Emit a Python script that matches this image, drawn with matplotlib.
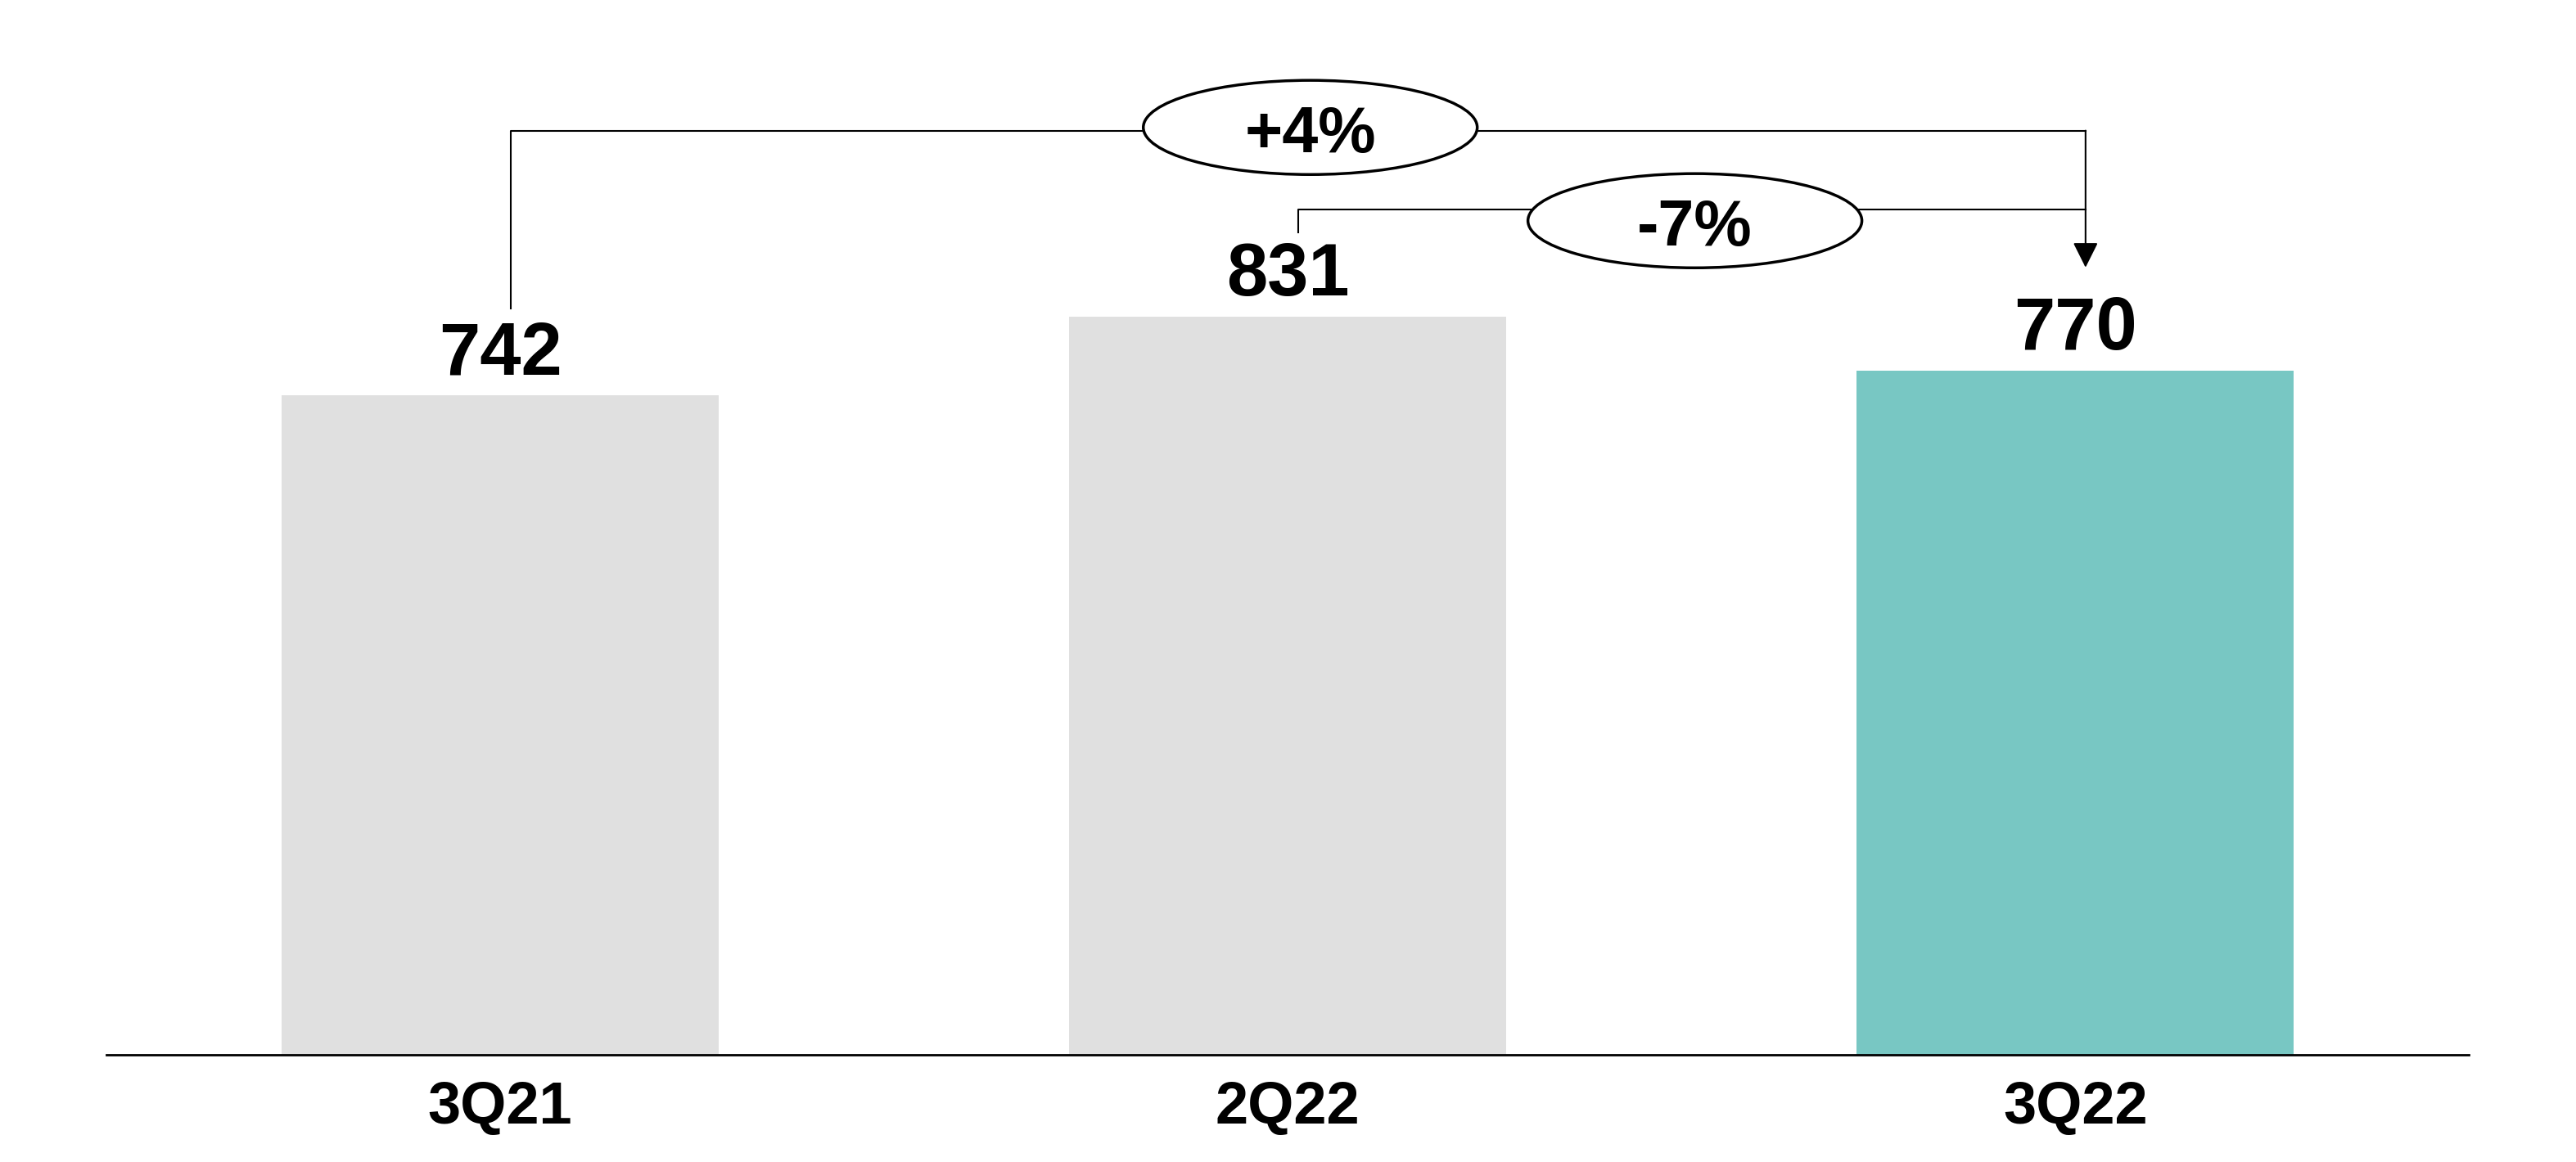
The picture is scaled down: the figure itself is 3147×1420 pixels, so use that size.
import matplotlib
matplotlib.use('Agg')
import matplotlib.pyplot as plt
from matplotlib.patches import Ellipse

categories = ['3Q21', '2Q22', '3Q22']
values = [742, 831, 770]
bar_colors = ['#E0E0E0', '#E0E0E0', '#78C7C3']
growth_labels = ['+4%', '-7%']

plt.rcParams['font.family'] = ['Liberation Sans', 'DejaVu Sans']
plt.rcParams['font.weight'] = 'bold'

fig = plt.figure(figsize=(31.47, 14.2), dpi=100)
ax = fig.add_axes([0.0413, 0.0923, 0.9172, 0.9077])

x = list(range(len(categories)))
ax.bar(x, values, width=0.555, color=bar_colors, zorder=2)
ax.set_xlim(-0.5, 2.5)
ax.set_ylim(0, 1187)

# value labels above bars
for xi, v in zip(x, values):
    ax.text(xi, v + 24, str(v), ha='center', va='baseline', fontsize=65, fontweight='bold')

# category labels under the axis
for xi, c in zip(x, categories):
    ax.text(xi, -0.0652, c, ha='center', va='baseline', fontsize=52, fontweight='bold',
            transform=ax.get_xaxis_transform(), clip_on=False)

for s in ['top', 'right', 'left']:
    ax.spines[s].set_visible(False)
ax.spines['bottom'].set_linewidth(2)
ax.set_xticks([])
ax.set_yticks([])

lw = 1.5
off = 0.013

# +4% bracket: 3Q21 -> 3Q22
y_top = 1040
ax.plot([x[0] + off, x[0] + off, x[2] + off], [values[0] + 98, y_top, y_top], color='black', lw=lw, zorder=2)
ax.annotate('', xy=(x[2] + off, values[2] + 116), xytext=(x[2] + off, y_top),
            arrowprops=dict(arrowstyle='-|>,head_length=1.9,head_width=0.95', mutation_scale=10,
                            color='black', lw=lw, shrinkA=0, shrinkB=0))

# -7% bracket: 2Q22 -> 3Q22
y_mid = 951
ax.plot([x[1] + off, x[1] + off, x[2] + off], [values[1] + 94, y_mid, y_mid], color='black', lw=lw, zorder=2)

# ellipses with growth rates
ell = [((1.0286, 1043.6), growth_labels[0]), ((1.517, 938.6), growth_labels[1])]
for (cx, cy), lab in ell:
    ax.add_patch(Ellipse((cx, cy), 0.424, 106, facecolor='white', edgecolor='black', lw=2.5, zorder=3))
    ax.text(cx, cy - 28, lab, ha='center', va='baseline', fontsize=57, fontweight='bold', zorder=4)

fig.savefig('out.png', dpi=100, facecolor='white')
